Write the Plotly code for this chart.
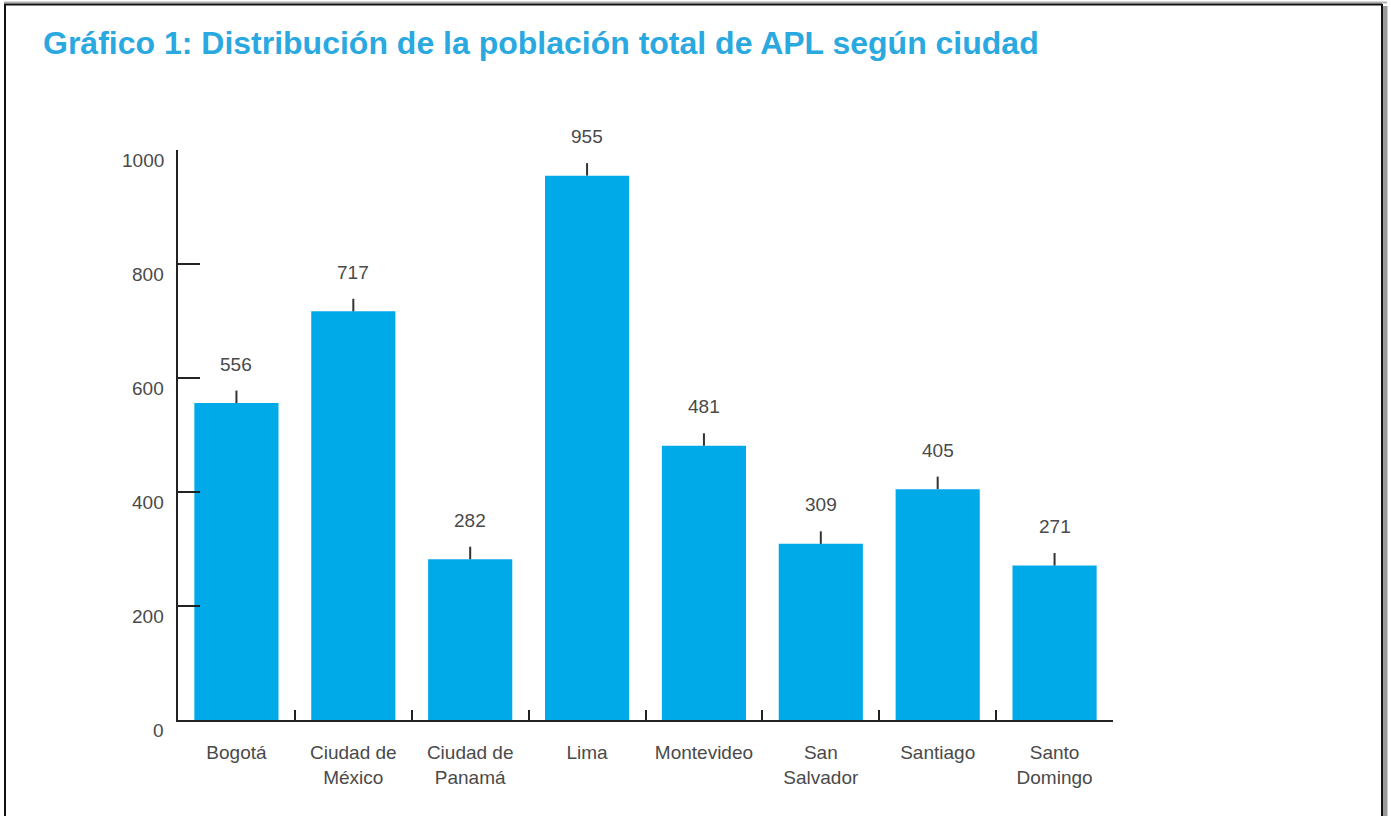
import plotly.graph_objects as go

cities = ["Bogotá", "Ciudad de<br>México", "Ciudad de<br>Panamá", "Lima", "Montevideo",
          "San<br>Salvador", "Santiago", "Santo<br>Domingo"]
population = [556, 717, 282, 955, 481, 309, 405, 271]
y_ticks = [0, 200, 400, 600, 800, 1000]
title_text = "Gráfico 1: Distribución de la población total de APL según ciudad"

BAR = "#00AAE8"
TXT = "#4a4a4a"
FONT = "Liberation Sans, Arial, sans-serif"

fig = go.Figure()
fig.add_trace(go.Bar(
    x=cities, y=population, marker=dict(color=BAR, line=dict(width=0)),
    error_y=dict(type="data", symmetric=False, array=[22] * len(population),
                 arrayminus=[0] * len(population), width=0, thickness=2, color="#333333"),
    cliponaxis=False, hoverinfo="x+y",
))

for c, v in zip(cities, population):
    fig.add_annotation(x=c, y=v, text=str(v), showarrow=False, yanchor="middle",
                       yshift=39, font=dict(family=FONT, size=19, color=TXT))

for t in y_ticks:
    fig.add_annotation(xref="paper", x=0, y=t, text=str(t), showarrow=False,
                       xanchor="right", yanchor="middle", xshift=-12, yshift=-10,
                       font=dict(family=FONT, size=19, color=TXT))

L, R, T, B = 178, 1113, 150, 720
W, H = R - L, B - T
def px(x): return (x - L) / W
def py(y): return (B - y) / H

# frame
fig.add_shape(type="line", xref="paper", yref="paper", x0=px(1385), x1=px(1385), y0=py(6), y1=py(830),
              line=dict(color="#9a9a9a", width=5))
fig.add_shape(type="line", xref="paper", yref="paper", x0=px(4), x1=px(1387), y0=py(2.5), y1=py(2.5),
              line=dict(color="#b0b0b0", width=2))
fig.add_shape(type="line", xref="paper", yref="paper", x0=px(4), x1=px(1382), y0=py(4.5), y1=py(4.5),
              line=dict(color="#111111", width=2))
fig.add_shape(type="line", xref="paper", yref="paper", x0=px(5), x1=px(5), y0=py(4), y1=py(830),
              line=dict(color="#111111", width=2))
fig.add_shape(type="line", xref="paper", yref="paper", x0=px(1382), x1=px(1382), y0=py(4), y1=py(830),
              line=dict(color="#111111", width=2))

fig.add_annotation(xref="paper", yref="paper", x=px(41), y=py(43), xanchor="left", yanchor="middle",
                   text="<b>" + title_text + "</b>", showarrow=False,
                   font=dict(family=FONT, size=32, color="#2AA8E0"))

fig.update_layout(
    width=1391, height=816, paper_bgcolor="white", plot_bgcolor="white",
    margin=dict(l=L, r=1391 - R, t=T, b=816 - B),
    bargap=0.28, showlegend=False,
    xaxis=dict(tickson="boundaries", ticks="inside", ticklen=10, tickwidth=1.5, tickcolor="#222",
               showline=True, linecolor="#222", linewidth=2, showgrid=False,
               tickfont=dict(family=FONT, size=19, color=TXT), range=[-0.5, 7.5],
               ticklabelstandoff=14),
    yaxis=dict(range=[0, 1000], tickvals=y_ticks, ticks="inside", ticklen=22, tickwidth=1.5,
               tickcolor="#222", showline=True, linecolor="#222", linewidth=2, showgrid=False,
               zeroline=False, showticklabels=False),
)

fig.write_html("out.html", config={"displayModeBar": False},
               post_script="document.body.style.margin='0';document.body.style.overflow='hidden';")
